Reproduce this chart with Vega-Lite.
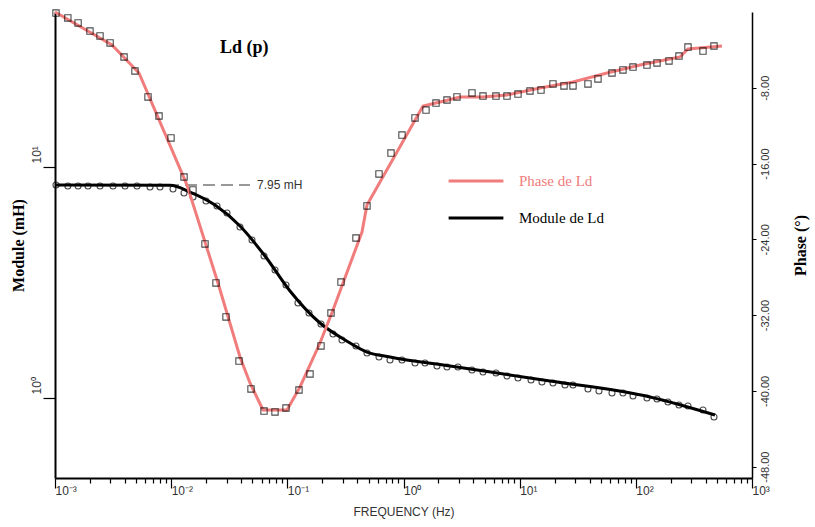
{
  "$schema": "https://vega.github.io/schema/vega-lite/v6.json",
  "width": 697,
  "height": 466,
  "autosize": {"type": "none"},
  "padding": {"left": 55, "top": 12, "right": 63, "bottom": 49},
  "background": "white",
  "config": {"view": {"stroke": null}, "font": "Liberation Sans"},
  "title": {"text": "Ld (p)", "anchor": "start", "frame": "group", "dx": 165, "dy": 69, "baseline": "alphabetic", "font": "Liberation Serif", "fontSize": 18, "fontWeight": "bold", "color": "black"},
  "datasets": {
    "phPts": [
      {"f":0.00102,"p":-0.11},{"f":0.00129,"p":-0.63},{"f":0.00158,"p":-1.16},{"f":0.002,"p":-2.01},{"f":0.00244,"p":-2.53},{"f":0.00298,"p":-3.27},{"f":0.00393,"p":-4.75},{"f":0.00488,"p":-6.23},{"f":0.00632,"p":-8.97},{"f":0.00786,"p":-10.98},{"f":0.00997,"p":-13.3},{"f":0.0129,"p":-17.42},{"f":0.01541,"p":-18.79},{"f":0.01956,"p":-24.49},{"f":0.02432,"p":-28.61},{"f":0.02965,"p":-32.2},{"f":0.03837,"p":-36.85},{"f":0.04867,"p":-39.8},{"f":0.06297,"p":-42.13},{"f":0.07831,"p":-42.23},{"f":0.09739,"p":-41.81},{"f":0.126,"p":-39.91},{"f":0.1567,"p":-38.22},{"f":0.1949,"p":-35.26},{"f":0.2376,"p":-31.78},{"f":0.2897,"p":-28.51},{"f":0.3899,"p":-23.86},{"f":0.485,"p":-20.48},{"f":0.6152,"p":-17.1},{"f":0.7806,"p":-14.89},{"f":0.9705,"p":-12.99},{"f":1.256,"p":-11.19},{"f":1.562,"p":-10.35},{"f":1.905,"p":-9.61},{"f":2.368,"p":-9.29},{"f":2.886,"p":-8.97},{"f":3.886,"p":-8.55},{"f":4.834,"p":-8.87},{"f":6.255,"p":-8.87},{"f":7.779,"p":-8.87},{"f":9.672,"p":-8.66},{"f":12.27,"p":-8.34},{"f":15.26,"p":-8.24},{"f":19.36,"p":-7.6},{"f":24.07,"p":-7.81},{"f":28.77,"p":-7.81},{"f":38.73,"p":-7.6},{"f":47.22,"p":-7.07},{"f":62.33,"p":-6.44},{"f":77.51,"p":-6.12},{"f":94.53,"p":-5.81},{"f":124.7,"p":-5.6},{"f":152.1,"p":-5.38},{"f":193.0,"p":-5.17},{"f":235.2,"p":-4.65},{"f":281.1,"p":-3.7},{"f":378.5,"p":-4.12},{"f":470.8,"p":-3.59}
    ],
    "phLine": [
      {"f":0.001,"p":0},{"f":0.003095,"p":-3.48},{"f":0.005285,"p":-6.44},{"f":0.01369,"p":-18.27},{"f":0.0253,"p":-28.61},{"f":0.03913,"p":-36.43},{"f":0.04771,"p":-39.17},{"f":0.06172,"p":-42.02},{"f":0.09934,"p":-42.02},{"f":0.1285,"p":-39.59},{"f":0.191,"p":-34.95},{"f":0.2473,"p":-31.46},{"f":0.4392,"p":-23.23},{"f":0.485,"p":-20.38},{"f":1.472,"p":-9.92},{"f":2.062,"p":-9.5},{"f":3.064,"p":-8.97},{"f":4.834,"p":-8.97},{"f":7.779,"p":-8.76},{"f":14.96,"p":-8.02},{"f":28.77,"p":-7.39},{"f":56.45,"p":-6.44},{"f":108.6,"p":-5.6},{"f":239.9,"p":-4.75},{"f":281.1,"p":-3.91},{"f":551.5,"p":-3.59}
    ],
    "modPts": [
      {"f":0.00102,"m":8.358},{"f":0.00129,"m":8.274},{"f":0.00158,"m":8.274},{"f":0.001923,"m":8.274},{"f":0.00244,"m":8.274},{"f":0.003157,"m":8.274},{"f":0.004005,"m":8.274},{"f":0.00508,"m":8.274},{"f":0.006574,"m":8.192},{"f":0.008013,"m":8.192},{"f":0.01037,"m":8.031},{"f":0.0129,"m":7.715},{"f":0.01541,"m":7.418},{"f":0.01995,"m":7.128},{"f":0.0248,"m":6.782},{"f":0.03024,"m":6.323},{"f":0.03913,"m":5.5},{"f":0.04964,"m":4.831},{"f":0.06297,"m":4.119},{"f":0.07831,"m":3.582},{"f":0.09739,"m":3.085},{"f":0.1235,"m":2.578},{"f":0.1536,"m":2.333},{"f":0.1949,"m":2.091},{"f":0.2473,"m":1.893},{"f":0.2955,"m":1.783},{"f":0.3899,"m":1.68},{"f":0.485,"m":1.566},{"f":0.6152,"m":1.505},{"f":0.7651,"m":1.46},{"f":0.9705,"m":1.46},{"f":1.256,"m":1.418},{"f":1.531,"m":1.418},{"f":1.942,"m":1.375},{"f":2.368,"m":1.362},{"f":2.944,"m":1.362},{"f":3.886,"m":1.322},{"f":4.834,"m":1.296},{"f":6.255,"m":1.283},{"f":7.779,"m":1.245},{"f":9.672,"m":1.221},{"f":12.52,"m":1.196},{"f":15.56,"m":1.173},{"f":19.36,"m":1.161},{"f":24.55,"m":1.138},{"f":28.77,"m":1.138},{"f":38.73,"m":1.094},{"f":48.17,"m":1.072},{"f":62.33,"m":1.051},{"f":77.51,"m":1.051},{"f":94.53,"m":1.02},{"f":124.7,"m":1.0},{"f":152.1,"m":0.99},{"f":189.1,"m":0.9609},{"f":235.2,"m":0.9326},{"f":281.1,"m":0.9233},{"f":378.5,"m":0.8872},{"f":470.8,"m":0.8275}
    ],
    "modLine": [
      {"f":0.001,"m":8.358},{"f":0.00977,"m":8.33},{"f":0.01453,"m":7.794},{"f":0.02384,"m":6.846},{"f":0.03913,"m":5.554},{"f":0.06423,"m":4.119},{"f":0.1054,"m":2.905},{"f":0.191,"m":2.112},{"f":0.3136,"m":1.783},{"f":0.485,"m":1.581},{"f":0.7651,"m":1.505},{"f":2.514,"m":1.375},{"f":18.24,"m":1.185},{"f":132.3,"m":1.01},{"f":480.2,"m":0.844}
    ],
    "annRule": [{"f":0.009208,"f2":0.04771,"m":8.358}],
    "annText": [{"f":0.05481,"m":8.358,"label":"7.95 mH"}]
  },
  "encoding": {
    "x": {
      "field": "f", "type": "quantitative",
      "scale": {"type": "log", "domain": [0.001, 1000], "nice": false},
      "axis": {
        "values": [0.001,0.002,0.003,0.004,0.005,0.006,0.007,0.008,0.009,0.01,0.02,0.03,0.04,0.05,0.06,0.07,0.08,0.09,0.1,0.2,0.3,0.4,0.5,0.6,0.7,0.8,0.9,1,2,3,4,5,6,7,8,9,10,20,30,40,50,60,70,80,90,100,200,300,400,500,600,700,800,900,1000],
        "labelExpr": "datum.value == 0.001 ? '10⁻³' : datum.value == 0.01 ? '10⁻²' : datum.value == 0.1 ? '10⁻¹' : datum.value == 1 ? '10⁰' : datum.value == 10 ? '10¹' : datum.value == 100 ? '10²' : datum.value == 1000 ? '10³' : ''",
        "tickSize": {"condition": {"test": "abs(log(datum.value)/LN10 - round(log(datum.value)/LN10)) < 0.001", "value": 10}, "value": 5},
        "tickColor": "black", "tickWidth": 1.2,
        "domainColor": "black", "domainWidth": 2,
        "labelAlign": "left", "labelPadding": -3, "labelFontSize": 12, "labelColor": "#333",
        "labelFlush": false, "labelOverlap": false, "grid": false,
        "title": "FREQUENCY (Hz)", "titleFont": "Liberation Sans", "titleFontSize": 12, "titleFontWeight": "normal", "titleColor": "#333", "titlePadding": 10
      }
    }
  },
  "layer": [
    {
      "encoding": {
        "y": {
          "field": "m", "type": "quantitative",
          "scale": {"type": "log", "domain": [0.4504, 46.9], "nice": false, "zero": false},
          "axis": {
            "orient": "left", "values": [1, 10],
            "labelExpr": "datum.value == 10 ? '10¹' : '10⁰'",
            "labelAngle": 270, "labelAlign": "left", "labelBaseline": "bottom", "labelPadding": 0, "labelOffset": -4,
            "labelFontSize": 12, "labelColor": "#333", "labelFlush": false,
            "tickSize": 12, "tickWidth": 1.2, "tickColor": "black",
            "domainColor": "black", "domainWidth": 2, "grid": false,
            "title": "Module (mH)", "titleFont": "Liberation Serif", "titleFontSize": 16, "titleFontWeight": "bold", "titleColor": "black", "titlePadding": 4
          }
        }
      },
      "layer": [
        {
          "data": {"name": "annRule"},
          "mark": {"type": "rule", "color": "#333", "strokeWidth": 1.2, "strokeDash": [12, 6]},
          "encoding": {"x2": {"field": "f2"}}
        },
        {
          "data": {"name": "annText"},
          "mark": {"type": "text", "align": "left", "baseline": "middle", "font": "Liberation Sans", "fontSize": 12, "color": "#333"},
          "encoding": {"text": {"field": "label"}}
        },
        {
          "data": {"name": "modLine"},
          "mark": {"type": "line", "strokeWidth": 3, "interpolate": "monotone"},
          "encoding": {
            "color": {
              "datum": "Module de Ld",
              "scale": {"domain": ["Phase de Ld", "Module de Ld"], "range": ["#f07c7c", "#000000"]},
              "legend": {
                "orient": "none", "legendX": 392, "legendY": 140, "title": null,
                "symbolType": "stroke", "symbolSize": 3000, "symbolStrokeWidth": 3,
                "labelFont": "Liberation Serif", "labelFontSize": 15, "labelOffset": 14, "rowPadding": -10,
                "encode": {"labels": {"update": {"fill": {"signal": "datum.value === 'Phase de Ld' ? '#f07c7c' : '#000000'"}}}}
              }
            }
          }
        },
        {
          "data": {"name": "modPts"},
          "mark": {"type": "point", "shape": "circle", "filled": false, "size": 36, "strokeWidth": 1.1, "color": "black"}
        }
      ]
    },
    {
      "encoding": {
        "y": {
          "field": "p", "type": "quantitative",
          "scale": {"domain": [-49.2, 0], "nice": false, "zero": false},
          "axis": {
            "orient": "right", "values": [-48, -40, -32, -24, -16, -8],
            "labelExpr": "replace(format(datum.value, '.2f'), '−', '-')",
            "labelAngle": 270, "labelAlign": "center", "labelBaseline": "top", "labelPadding": 3,
            "labelFontSize": 11, "labelColor": "#333", "labelFlush": false,
            "tickSize": 4, "tickColor": "black", "domainColor": "black", "domainWidth": 1.5, "grid": false,
            "title": "Phase (°)", "titleAngle": 270, "titleFont": "Liberation Serif", "titleFontSize": 16, "titleFontWeight": "bold", "titleColor": "black", "titlePadding": 38
          }
        }
      },
      "layer": [
        {
          "data": {"name": "phLine"},
          "mark": {"type": "line", "strokeWidth": 3},
          "encoding": {"color": {"datum": "Phase de Ld"}}
        },
        {
          "data": {"name": "phPts"},
          "mark": {"type": "point", "shape": "square", "filled": false, "size": 40, "strokeWidth": 1.1, "color": "black"}
        }
      ]
    }
  ],
  "resolve": {"scale": {"y": "independent"}}
}
